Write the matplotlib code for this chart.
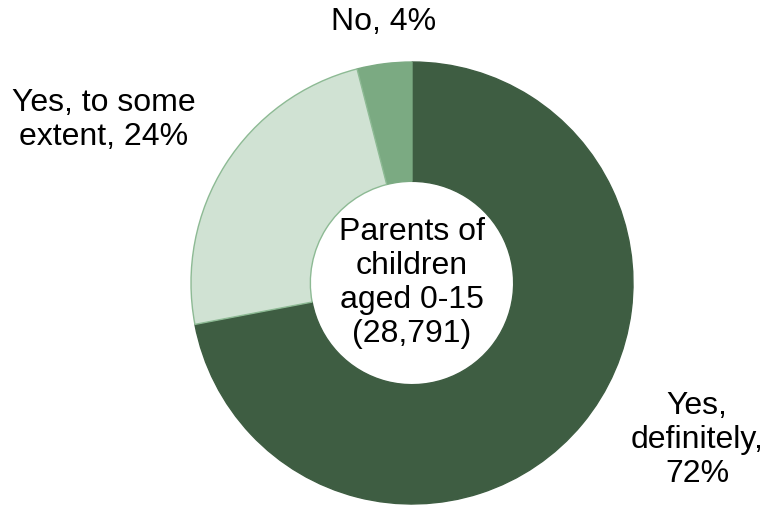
import matplotlib
matplotlib.use("Agg")
import matplotlib.pyplot as plt

categories = ["Yes, definitely", "Yes, to some extent", "No"]
values = [72, 24, 4]
label_texts = ["Yes,\ndefinitely,\n72%", "Yes, to some\nextent, 24%", "No, 4%"]
center_text = "Parents of\nchildren\naged 0-15\n(28,791)"
colors = ["#3E5D42", "#D0E2D3", "#7BAA82"]
edge_colors = ["#3E5D42", "#8DBA94", "#7BAA82"]

plt.rcParams['font.family'] = ['Liberation Sans', 'DejaVu Sans']

fig = plt.figure(figsize=(7.66, 5.05), dpi=100)
ax = fig.add_axes([0, 0, 1, 1])

cx, cy, R = 412, 222, 221
wedges, _ = ax.pie(values, colors=colors, startangle=90, counterclock=False,
                   center=(cx, cy), radius=R, frame=True,
                   wedgeprops=dict(width=R * 0.54, linewidth=1.0))
for w, ec in zip(wedges, edge_colors):
    w.set_edgecolor(ec)
# draw the light wedge on top so its outline is visible
wedges[1].set_zorder(3)
ax.set_xlim(0, 766)
ax.set_ylim(0, 505)
ax.set_aspect('equal')
ax.axis('off')

fs = 23
ls = 1.18
ax.text(cx, cy, center_text, ha='center', va='center', fontsize=fs,
        linespacing=ls, zorder=5)
ax.text(697, 65, label_texts[0], ha='center', va='center', fontsize=fs,
        linespacing=ls)
ax.text(104, 385, label_texts[1], ha='center', va='center', fontsize=fs,
        linespacing=ls)
ax.text(384, 483, label_texts[2], ha='center', va='center', fontsize=fs,
        linespacing=ls)

fig.savefig("out.png", dpi=100)
